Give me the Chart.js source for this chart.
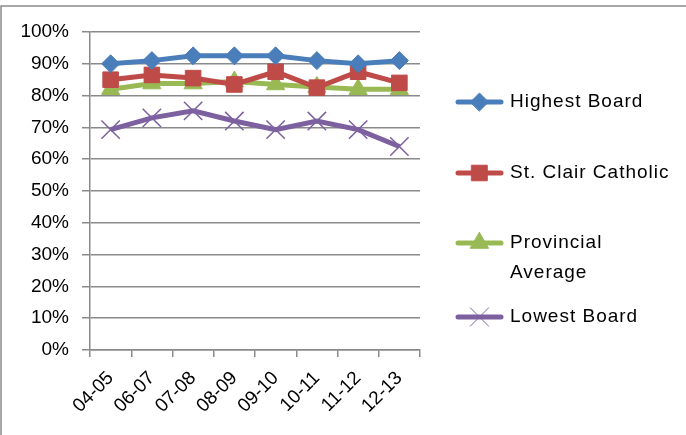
<!DOCTYPE html>
<html>
<head>
<meta charset="utf-8">
<script src="https://cdn.jsdelivr.net/npm/chart.js@4"></script>
<style>
  body { margin: 0; background: #fff; }
  #wrap { width: 686px; height: 435px; }
</style>
</head>
<body>
<div id="wrap"><canvas id="grafica" width="686" height="435"></canvas></div>
<script>
// DATOS
const years = ["04-05", "06-07", "07-08", "08-09", "09-10", "10-11", "11-12", "12-13"];
const highestBoard = [90, 91, 92.5, 92.5, 92.5, 91, 90, 91];
const stClair = [85, 86.5, 85.5, 83.5, 87.5, 82.5, 87.5, 84];
const provincial = [82, 83.8, 83.8, 84.4, 83.5, 82.7, 82, 82];
const lowestBoard = [69.3, 73, 75.2, 72, 69.3, 72, 69.3, 64];
const yTicks = [0, 10, 20, 30, 40, 50, 60, 70, 80, 90, 100];

const font = "'Liberation Sans', Arial, sans-serif";
const gridColor = "#8a8a8a";

const series = [
  { label: ["Highest Board"], data: highestBoard, color: "#4A7EBB", style: "rectRot", radius: 9, ly: 102 },
  { label: ["St. Clair Catholic"], data: stClair, color: "#BE4B48", style: "rect", radius: 11, ly: 173 },
  { label: ["Provincial", "Average"], data: provincial, color: "#98B954", style: "triangle", radius: 10.5, ly: 243 },
  { label: ["Lowest Board"], data: lowestBoard, color: "#7D60A0", style: "crossRot", radius: 13, ly: 317 }
];

// LEYENDA Y MARCO
const extras = {
  id: "extras",
  afterDraw(chart) {
    const ctx = chart.ctx;
    ctx.save();
    ctx.strokeStyle = gridColor;
    ctx.lineWidth = 1.5;
    ctx.beginPath();
    ctx.moveTo(1, chart.height);
    ctx.lineTo(1, 6);
    ctx.lineTo(chart.width, 6);
    ctx.stroke();

    series.forEach(s => {
      ctx.strokeStyle = s.color;
      ctx.fillStyle = s.color;
      ctx.lineWidth = 5;
      ctx.lineCap = "round";
      ctx.beginPath();
      ctx.moveTo(458, s.ly);
      ctx.lineTo(501, s.ly);
      ctx.stroke();
      ctx.lineWidth = 1;
      Chart.helpers.drawPoint(ctx, {
        pointStyle: s.style,
        radius: s.radius,
        borderWidth: s.style === "crossRot" ? 1.5 : 1
      }, 479.5, s.ly);
      ctx.fillStyle = "#000";
      ctx.font = "19px " + font;
      ctx.letterSpacing = "1px";
      ctx.textBaseline = "middle";
      s.label.forEach((t, i) => ctx.fillText(t, 510, s.ly + i * 30));
    });
    ctx.restore();
  }
};

const ctx = document.getElementById("grafica").getContext("2d");

new Chart(ctx, {
  type: "line",
  data: {
    labels: years,
    datasets: series.map(s => ({
      label: s.label.join(" "),
      data: s.data,
      borderColor: s.color,
      backgroundColor: s.color,
      pointBackgroundColor: s.color,
      pointBorderColor: s.color,
      pointStyle: s.style,
      pointRadius: s.radius,
      pointBorderWidth: s.style === "crossRot" ? 1.5 : 1,
      borderWidth: 5,
      tension: 0
    }))
  },
  options: {
    responsive: false,
    animation: false,
    layout: { padding: { left: 0, right: 266, top: 32, bottom: 0 } },
    plugins: { legend: { display: false }, tooltip: { enabled: false } },
    scales: {
      x: {
        offset: true,
        grid: { display: true, drawOnChartArea: false, offset: true, color: gridColor, lineWidth: 1.5, tickLength: 7 },
        border: { color: gridColor, width: 1.5 },
        ticks: { minRotation: 45, maxRotation: 45, color: "#000", font: { family: font, size: 19 }, padding: 10 },
        afterFit: sc => { sc.height = 85; }
      },
      y: {
        min: 0,
        max: 100,
        afterBuildTicks: sc => { sc.ticks = yTicks.map(v => ({ value: v })); },
        grid: { color: gridColor, lineWidth: 1.5, tickLength: 8 },
        border: { color: gridColor, width: 1.5 },
        ticks: { color: "#000", font: { family: font, size: 19 }, padding: 13, callback: v => v + "%" },
        afterFit: sc => { sc.width = 90; }
      }
    }
  },
  plugins: [extras]
});
</script>
</body>
</html>
